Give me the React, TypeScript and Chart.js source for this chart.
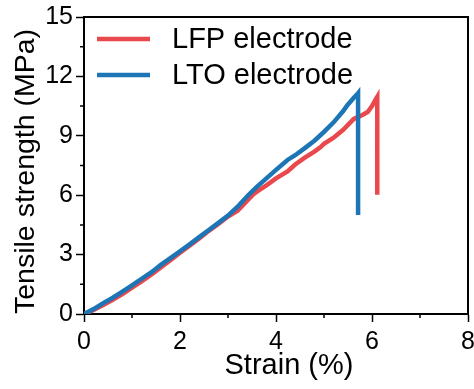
import React, { useEffect, useRef } from 'react';
import { Chart, registerables } from 'chart.js';

Chart.register(...registerables);

// ---- data ----
const lfpStrain = [0, 0.2, 0.4, 0.6, 0.8, 1.0, 1.2, 1.4, 1.6, 1.8, 2.0, 2.2, 2.4, 2.6, 2.8, 3.0, 3.2, 3.4, 3.53, 3.6, 3.8, 4.0, 4.24, 4.4, 4.6, 4.8, 4.93, 5.0, 5.2, 5.4, 5.62, 5.8, 5.91, 6.0, 6.08, 6.11, 6.11];
const lfpStress = [0, 0.2, 0.45, 0.72, 1.0, 1.33, 1.65, 1.98, 2.35, 2.72, 3.1, 3.45, 3.82, 4.2, 4.55, 4.92, 5.22, 5.72, 6.05, 6.18, 6.5, 6.85, 7.2, 7.55, 7.9, 8.2, 8.43, 8.6, 8.9, 9.3, 9.85, 10.05, 10.2, 10.5, 10.85, 10.97, 6.02];

const ltoStrain = [0, 0.2, 0.4, 0.6, 0.8, 1.0, 1.2, 1.4, 1.6, 1.8, 2.0, 2.2, 2.4, 2.6, 2.8, 3.0, 3.2, 3.4, 3.53, 3.6, 3.8, 4.0, 4.24, 4.4, 4.6, 4.8, 4.93, 5.0, 5.2, 5.4, 5.49, 5.55, 5.62, 5.7, 5.71, 5.71];
const ltoStress = [0, 0.25, 0.55, 0.82, 1.13, 1.45, 1.78, 2.1, 2.48, 2.82, 3.17, 3.52, 3.88, 4.24, 4.6, 4.97, 5.42, 5.95, 6.26, 6.42, 6.85, 7.28, 7.78, 8.02, 8.38, 8.75, 9.04, 9.2, 9.68, 10.25, 10.56, 10.72, 10.92, 11.12, 11.15, 5.0];

const seriesLabels = ['LFP electrode', 'LTO electrode'];
const seriesColors = ['#E9484D', '#1C76B6'];

const xMin = 0, xMax = 8, xStep = 2;
const yMin = 0, yMax = 15, yStep = 3;
const xMinorTicks = [1, 3, 5, 7];
const yMinorTicks = [1.5, 4.5, 7.5, 10.5, 13.5];

const xTitle = 'Strain (%)';
const yTitle = 'Tensile strength (MPa)';

const FONT = '"Liberation Sans", Arial, Helvetica, sans-serif';

const decorPlugin = {
  id: 'decor',
  afterDraw(chart: any) {
    const { ctx, chartArea } = chart;
    const xs = chart.scales.x;
    const ys = chart.scales.y;
    ctx.save();
    // frame (top and right)
    ctx.strokeStyle = '#000';
    ctx.lineWidth = 2;
    ctx.beginPath();
    ctx.moveTo(chartArea.left, chartArea.top);
    ctx.lineTo(chartArea.right, chartArea.top);
    ctx.lineTo(chartArea.right, chartArea.bottom);
    ctx.stroke();
    // minor ticks
    ctx.lineWidth = 1.5;
    ctx.beginPath();
    xMinorTicks.forEach((v) => {
      const px = xs.getPixelForValue(v);
      ctx.moveTo(px, chartArea.bottom);
      ctx.lineTo(px, chartArea.bottom + 4);
    });
    yMinorTicks.forEach((v) => {
      const py = ys.getPixelForValue(v);
      ctx.moveTo(chartArea.left, py);
      ctx.lineTo(chartArea.left - 4, py);
    });
    ctx.stroke();
    // x-axis title (placed as in the reference, slightly right of centre)
    ctx.fillStyle = '#000';
    ctx.font = `29px ${FONT}`;
    ctx.textAlign = 'center';
    ctx.textBaseline = 'middle';
    ctx.fillText(xTitle, xs.getPixelForValue(4.27), chartArea.bottom + 52);
    // legend (inside plot, top-left)
    const lx0 = chartArea.left + 13;
    const lx1 = chartArea.left + 66;
    const tx = chartArea.left + 88;
    const rows = [chartArea.top + 22, chartArea.top + 58];
    ctx.font = `29px ${FONT}`;
    ctx.textBaseline = 'middle';
    ctx.textAlign = 'left';
    seriesLabels.forEach((lab, i) => {
      ctx.strokeStyle = seriesColors[i];
      ctx.lineWidth = 4.5;
      ctx.beginPath();
      ctx.moveTo(lx0, rows[i]);
      ctx.lineTo(lx1, rows[i]);
      ctx.stroke();
      ctx.fillStyle = '#000';
      ctx.fillText(lab, tx, rows[i] + 1);
    });
    ctx.restore();
  },
};

export default function App() {
  const ref = useRef<HTMLCanvasElement | null>(null);
  useEffect(() => {
    if (!ref.current) return;
    const chart = new Chart(ref.current, {
      type: 'scatter',
      data: {
        datasets: [
          {
            label: seriesLabels[0],
            data: lfpStrain.map((x, i) => ({ x, y: lfpStress[i] })),
            borderColor: seriesColors[0],
            backgroundColor: seriesColors[0],
            showLine: true,
            borderWidth: 4.5,
            pointRadius: 0,
            tension: 0,
            order: 1,
          },
          {
            label: seriesLabels[1],
            data: ltoStrain.map((x, i) => ({ x, y: ltoStress[i] })),
            borderColor: seriesColors[1],
            backgroundColor: seriesColors[1],
            showLine: true,
            borderWidth: 4.5,
            pointRadius: 0,
            tension: 0,
            order: 0,
          },
        ],
      },
      options: {
        animation: false,
        responsive: false,
        maintainAspectRatio: false,
        layout: { padding: { left: 0, top: 17, right: 6, bottom: 0 } },
        plugins: { legend: { display: false }, tooltip: { enabled: false } },
        scales: {
          x: {
            type: 'linear',
            min: xMin,
            max: xMax,
            ticks: { stepSize: xStep, color: '#000', font: { family: FONT, size: 25 }, padding: 5 },
            grid: { drawOnChartArea: false, drawTicks: true, tickLength: 8, tickColor: '#000', tickWidth: 1.5 },
            border: { display: true, color: '#000', width: 2 },
            title: { display: false, text: xTitle },
            afterFit(scale: any) { scale.height = 75; scale.paddingLeft = 0; scale.paddingRight = 0; },
          },
          y: {
            type: 'linear',
            min: yMin,
            max: yMax,
            ticks: { stepSize: yStep, color: '#000', font: { family: FONT, size: 25 }, padding: 3 },
            grid: { drawOnChartArea: false, drawTicks: true, tickLength: 8, tickColor: '#000', tickWidth: 1.5 },
            border: { display: true, color: '#000', width: 2 },
            title: { display: true, text: yTitle, align: 'start', color: '#000', font: { family: FONT, size: 28.5 }, padding: { top: 9, bottom: 0 } },
            afterFit(scale: any) { scale.width = 84; scale.paddingTop = 0; scale.paddingBottom = 0; },
          },
        },
      },
      plugins: [decorPlugin],
    } as any);
    return () => chart.destroy();
  }, []);
  return (
    <div style={{ position: 'fixed', left: 0, top: 0, width: 474, height: 389, background: '#fff' }}>
      <canvas ref={ref} width={474} height={389} style={{ display: 'block', width: 474, height: 389 }} />
    </div>
  );
}
